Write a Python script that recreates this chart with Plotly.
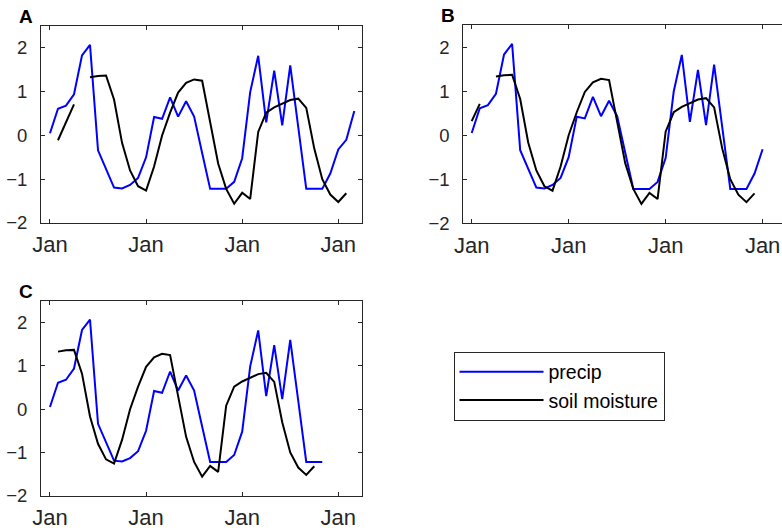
import plotly.graph_objects as go

# ---- data (months since first January) ----
months = list(range(39))
precip = [0.05, 0.61, 0.68, 0.94, 1.83, 2.07, -0.34, -0.76, -1.19, -1.21,
          -1.13, -0.97, -0.50, 0.42, 0.38, 0.87, 0.43, 0.78, 0.43, -0.40,
          -1.22, -1.22, -1.22, -1.06, -0.52, 0.99, 1.82, 0.30, 1.48, 0.23,
          1.60, 0.19, -1.22, -1.22, -1.22, -0.87, -0.32, -0.10, 0.56]
soil_moisture = [None, -0.11, 0.32, 0.71, None, 1.33, 1.36, 1.37, 0.82, -0.17,
                 -0.80, -1.16, -1.26, -0.71, 0.00, 0.52, 0.98, 1.20, 1.28, 1.25,
                 0.32, -0.64, -1.22, -1.56, -1.31, -1.45, 0.08, 0.52, 0.64, 0.72,
                 0.81, 0.84, 0.63, -0.30, -1.00, -1.35, -1.52, -1.32]

panel_labels = ["A", "B", "C"]
soil_lags = [0, 2, 4]          # months the soil series is shifted back
precip_last = [38, 36, 34]     # last month of precip shown in each panel
x_tick_vals = [0, 12, 24, 36]
x_tick_text = ["Jan", "Jan", "Jan", "Jan"]
y_tick_vals = [-2, -1, 0, 1, 2]

W, H = 782, 532
# panel boxes in pixels: (left, right, top, bottom)
boxes = [(41, 362, 26, 223), (463.3, 782, 25, 223.3), (41, 362, 301, 495.7)]
xranges = [[-1.12, 38.96], [-1.04, 38.4], [-1.12, 38.96]]

AX = "#262626"
FONT = "Liberation Sans, Arial, Helvetica, sans-serif"

fig = go.Figure()
layout = dict(
    template="none",
    width=W, height=H, margin=dict(l=0, r=0, t=0, b=0, autoexpand=False),
    paper_bgcolor="white", plot_bgcolor="white",
    font=dict(family=FONT, size=19, color=AX),
    showlegend=True,
    legend=dict(x=453.5 / W, y=1 - 386 / H, xanchor="left", yanchor="middle",
                bordercolor=AX, borderwidth=1, bgcolor="white",
                font=dict(size=19.5, color="black"), itemwidth=84,
                tracegroupgap=0),
    annotations=[],
)

for i, (lab, lag, plast) in enumerate(zip(panel_labels, soil_lags, precip_last)):
    n = "" if i == 0 else str(i + 1)
    xa, ya = "x" + n, "y" + n
    px = [m for m in months if m <= plast]
    py = [precip[m] for m in px]
    sx = [m - lag for m in range(len(soil_moisture)) if m - lag >= 0]
    sy = [soil_moisture[m] for m in range(len(soil_moisture)) if m - lag >= 0]
    fig.add_trace(go.Scatter(x=px, y=py, mode="lines", name="precip",
                             line=dict(color="#0000ff", width=2),
                             xaxis=xa, yaxis=ya, showlegend=(i == 0),
                             connectgaps=False, hoverinfo="skip"))
    fig.add_trace(go.Scatter(x=sx, y=sy, mode="lines", name="soil moisture",
                             line=dict(color="black", width=2),
                             xaxis=xa, yaxis=ya, showlegend=(i == 0),
                             connectgaps=False, hoverinfo="skip"))
    l, r, t, b = boxes[i]
    mirror_y = "allticks" if i != 1 else False
    layout["xaxis" + n] = dict(
        domain=[l / W, r / W], range=xranges[i], anchor=ya, automargin=False,
        tickvals=x_tick_vals, ticktext=x_tick_text,
        ticks="inside", ticklen=4, tickcolor=AX, showline=True,
        linecolor=AX, linewidth=1, mirror="allticks", showgrid=False,
        zeroline=False, tickfont=dict(size=22, color=AX),
        ticklabelstandoff=2,
    )
    layout["yaxis" + n] = dict(
        domain=[1 - b / H, 1 - t / H], range=[-2, 2.5], anchor=xa,
        automargin=False,
        tickvals=y_tick_vals, ticks="inside", ticklen=4, tickcolor=AX,
        showline=True, linecolor=AX, linewidth=1, mirror=mirror_y,
        showgrid=False, zeroline=False, tickfont=dict(size=18.5, color=AX),
        ticklabelstandoff=9,
    )
    layout["annotations"].append(dict(
        text="<b>%s</b>" % lab, xref="paper", yref="paper",
        x=(l - 15) / W, y=1 - (t - 10) / H, xanchor="center", yanchor="middle",
        showarrow=False, font=dict(size=19, color="black", family=FONT)))

fig.update_layout(**layout)
fig.write_html("out.html",
               config={"displayModeBar": False, "staticPlot": True},
               post_script="document.body.style.margin='0px';"
                           "document.body.style.overflow='hidden';")
